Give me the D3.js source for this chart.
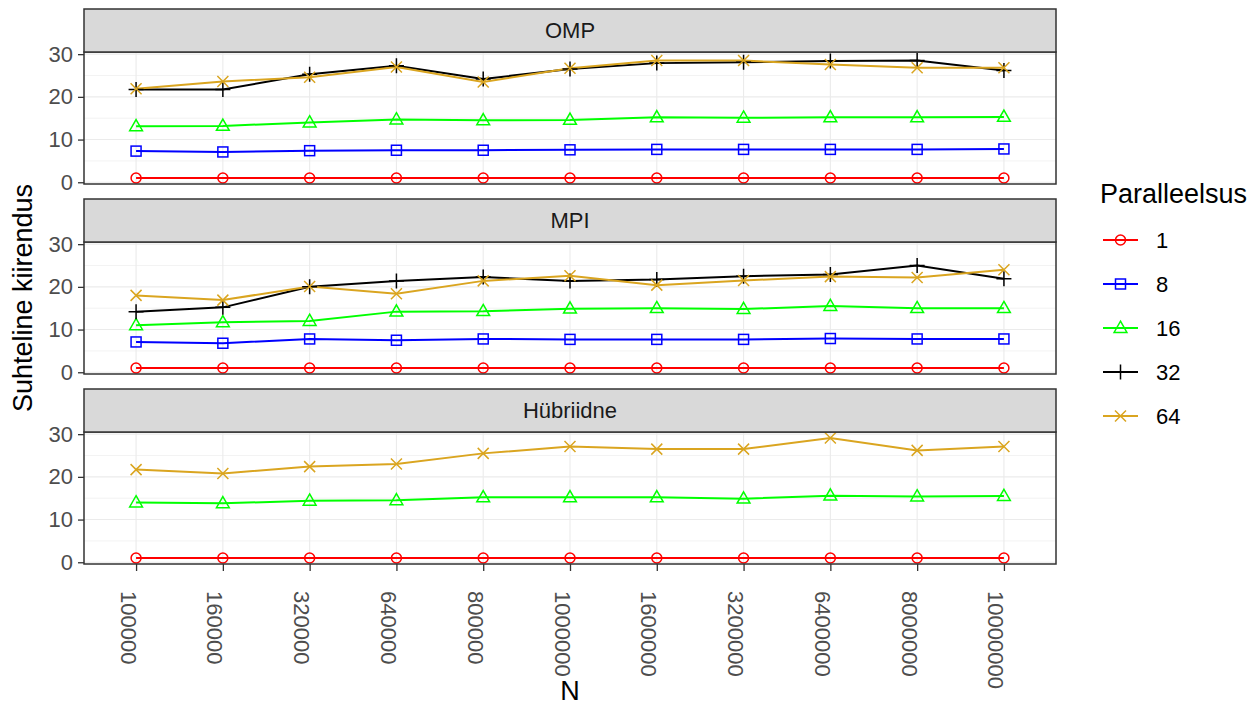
<!DOCTYPE html>
<html>
<head>
<meta charset="utf-8">
<script src="https://cdn.jsdelivr.net/npm/d3@7"></script>
<style>
  body { margin: 0; background: #fff; }
  text { font-family: "Liberation Sans", Arial, sans-serif; }
</style>
</head>
<body>
<script>
// x categories (N)
var nLabels = ["100000", "160000", "320000", "640000", "800000", "1000000",
               "1600000", "3200000", "6400000", "8000000", "10000000"];

// legend levels
var levels = ["1", "8", "16", "32", "64"];
var colors = ["#FF0000", "#0000FF", "#00FF00", "#000000", "#DAA520"];
var shapes = ["circle", "square", "triangle", "plus", "cross"];

// panel names
var panels = ["OMP", "MPI", "Hübriidne"];

// OMP
var omp1  = [1, 1, 1, 1, 1, 1, 1, 1, 1, 1, 1];
var omp8  = [7.3, 7.1, 7.4, 7.5, 7.5, 7.6, 7.7, 7.7, 7.7, 7.7, 7.8];
var omp16 = [13.1, 13.2, 14.0, 14.7, 14.5, 14.6, 15.2, 15.1, 15.2, 15.2, 15.3];
var omp32 = [21.7, 21.7, 25.3, 27.3, 24.2, 26.5, 27.9, 28.1, 28.4, 28.5, 26.2];
var omp64 = [21.9, 23.6, 24.6, 27.0, 23.5, 26.7, 28.5, 28.5, 27.6, 26.8, 26.8];

// MPI
var mpi1  = [1, 1, 1, 1, 1, 1, 1, 1, 1, 1, 1];
var mpi8  = [7.1, 6.8, 7.8, 7.5, 7.8, 7.7, 7.7, 7.7, 7.9, 7.8, 7.8];
var mpi16 = [11.0, 11.7, 12.0, 14.2, 14.3, 14.9, 15.0, 14.8, 15.5, 15.0, 15.0];
var mpi32 = [14.2, 15.2, 20.0, 21.4, 22.3, 21.4, 21.7, 22.5, 22.9, 25.0, 21.9];
var mpi64 = [18.0, 16.9, 20.1, 18.4, 21.4, 22.6, 20.4, 21.5, 22.4, 22.2, 24.0];

// Hübriidne (only 1, 16, 64)
var hyb1  = [1, 1, 1, 1, 1, 1, 1, 1, 1, 1, 1];
var hyb16 = [14.0, 13.8, 14.4, 14.5, 15.2, 15.2, 15.2, 14.9, 15.6, 15.4, 15.5];
var hyb64 = [21.7, 20.8, 22.4, 23.0, 25.5, 27.1, 26.5, 26.5, 29.1, 26.2, 27.1];

var yTicks = [0, 10, 20, 30];
var yMinor = [5, 15, 25];

var panelSeries = [
  [["1", omp1], ["8", omp8], ["16", omp16], ["32", omp32], ["64", omp64]],
  [["1", mpi1], ["8", mpi8], ["16", mpi16], ["32", mpi32], ["64", mpi64]],
  [["1", hyb1], ["16", hyb16], ["64", hyb64]]
];

var width = 1260, height = 708;
var left = 84, right = 1056;
var panelTops = [52, 242, 432];
var panelH = 132, stripH = 43;

var svg = d3.select("body").append("svg")
    .attr("width", width)
    .attr("height", height);

var x = d3.scalePoint()
    .domain(nLabels)
    .range([left, right])
    .padding(0.6);

// common y domain with ggplot-like 5% expansion
var allVals = [];
panelSeries.forEach(function(ps){ ps.forEach(function(s){ allVals = allVals.concat(s[1]); }); });
var yMin = d3.min(allVals), yMax = d3.max(allVals);
var pad = (yMax - yMin) * 0.05;

var color = d3.scaleOrdinal().domain(levels).range(colors);
var shape = d3.scaleOrdinal().domain(levels).range(shapes);

function drawShape(g, type, c) {
  if (type === "circle") {
    g.append("circle").attr("r", 5).attr("fill", "none").attr("stroke", c).attr("stroke-width", 1.5);
  } else if (type === "square") {
    g.append("rect").attr("x", -5).attr("y", -5).attr("width", 10).attr("height", 10)
      .attr("fill", "none").attr("stroke", c).attr("stroke-width", 1.5);
  } else if (type === "triangle") {
    g.append("path").attr("d", "M0,-6.8L6.4,4.4L-6.4,4.4Z")
      .attr("fill", "none").attr("stroke", c).attr("stroke-width", 1.5);
  } else if (type === "plus") {
    g.append("path").attr("d", "M-7.5,0L7.5,0M0,-7.5L0,7.5")
      .attr("stroke", c).attr("stroke-width", 1.5);
  } else {
    g.append("path").attr("d", "M-5.5,-5.5L5.5,5.5M-5.5,5.5L5.5,-5.5")
      .attr("stroke", c).attr("stroke-width", 1.5);
  }
}

panels.forEach(function(name, i){
  var top = panelTops[i];
  var y = d3.scaleLinear()
      .domain([yMin - pad, yMax + pad])
      .range([top + panelH, top]);

  var g = svg.append("g");

  // grid
  g.selectAll(".minor").data(yMinor).enter().append("line")
    .attr("x1", left).attr("x2", right)
    .attr("y1", function(d){ return y(d); }).attr("y2", function(d){ return y(d); })
    .attr("stroke", "#EBEBEB").attr("stroke-width", 0.6);
  g.selectAll(".major").data(yTicks).enter().append("line")
    .attr("x1", left).attr("x2", right)
    .attr("y1", function(d){ return y(d); }).attr("y2", function(d){ return y(d); })
    .attr("stroke", "#EBEBEB").attr("stroke-width", 1.1);
  g.selectAll(".vgrid").data(nLabels).enter().append("line")
    .attr("x1", function(d){ return x(d); }).attr("x2", function(d){ return x(d); })
    .attr("y1", top).attr("y2", top + panelH)
    .attr("stroke", "#EBEBEB").attr("stroke-width", 1.1);

  var line = d3.line()
      .x(function(d, j){ return x(nLabels[j]); })
      .y(function(d){ return y(d); });

  // lines first, then points
  panelSeries[i].forEach(function(s){
    g.append("path").datum(s[1])
      .attr("d", line)
      .attr("fill", "none")
      .attr("stroke", color(s[0]))
      .attr("stroke-width", 2);
  });
  panelSeries[i].forEach(function(s){
    s[1].forEach(function(v, j){
      var pg = g.append("g").attr("transform", "translate(" + x(nLabels[j]) + "," + y(v) + ")");
      drawShape(pg, shape(s[0]), color(s[0]));
    });
  });

  // panel border
  g.append("rect")
    .attr("x", left).attr("y", top).attr("width", right - left).attr("height", panelH)
    .attr("fill", "none").attr("stroke", "#333333").attr("stroke-width", 1.5);

  // strip
  g.append("rect")
    .attr("x", left).attr("y", top - stripH).attr("width", right - left).attr("height", stripH)
    .attr("fill", "#D9D9D9").attr("stroke", "#333333").attr("stroke-width", 1.5);
  g.append("text")
    .attr("x", (left + right) / 2).attr("y", top - stripH / 2)
    .attr("dy", "0.35em")
    .attr("text-anchor", "middle")
    .attr("font-size", 22)
    .attr("fill", "#1A1A1A")
    .text(name);

  // y axis
  var yAxis = d3.axisLeft(y).tickValues(yTicks).tickSize(6).tickPadding(5);
  var ya = g.append("g").attr("transform", "translate(" + left + ",0)").call(yAxis);
  ya.select(".domain").remove();
  ya.selectAll(".tick line").attr("stroke", "#333333").attr("stroke-width", 1.3);
  ya.selectAll(".tick text").attr("fill", "#4D4D4D").attr("font-size", 22)
    .attr("font-family", "Liberation Sans, Arial, sans-serif");

  // x axis on last panel
  if (i === panels.length - 1) {
    var xAxis = d3.axisBottom(x).tickSize(7);
    var xa = g.append("g").attr("transform", "translate(0," + (top + panelH) + ")").call(xAxis);
    xa.select(".domain").remove();
    xa.selectAll(".tick line").attr("stroke", "#333333").attr("stroke-width", 1.3);
    xa.selectAll(".tick text")
      .attr("fill", "#4D4D4D").attr("font-size", 22)
      .attr("font-family", "Liberation Sans, Arial, sans-serif")
      .attr("text-anchor", "start")
      .attr("dy", null)
      .attr("y", 0)
      .attr("transform", "translate(-16,27) rotate(90)");
  }
});

// axis titles
svg.append("text")
  .attr("transform", "translate(32,298) rotate(-90)")
  .attr("text-anchor", "middle")
  .attr("font-size", 27)
  .attr("fill", "#000")
  .text("Suhteline kiirendus");

svg.append("text")
  .attr("x", (left + right) / 2).attr("y", 700)
  .attr("text-anchor", "middle")
  .attr("font-size", 27)
  .attr("fill", "#000")
  .text("N");

// legend
var leg = svg.append("g");
leg.append("text")
  .attr("x", 1100).attr("y", 203)
  .attr("font-size", 27)
  .attr("fill", "#000")
  .text("Paralleelsus");

var legY = d3.scalePoint().domain(levels).range([240, 416]);
levels.forEach(function(lv){
  var ly = legY(lv);
  leg.append("line")
    .attr("x1", 1103).attr("x2", 1138).attr("y1", ly).attr("y2", ly)
    .attr("stroke", color(lv)).attr("stroke-width", 2);
  var sg = leg.append("g").attr("transform", "translate(1120.5," + ly + ")");
  drawShape(sg, shape(lv), color(lv));
  leg.append("text")
    .attr("x", 1156).attr("y", ly).attr("dy", "0.35em")
    .attr("font-size", 22)
    .attr("fill", "#000")
    .text(lv);
});
</script>
</body>
</html>
